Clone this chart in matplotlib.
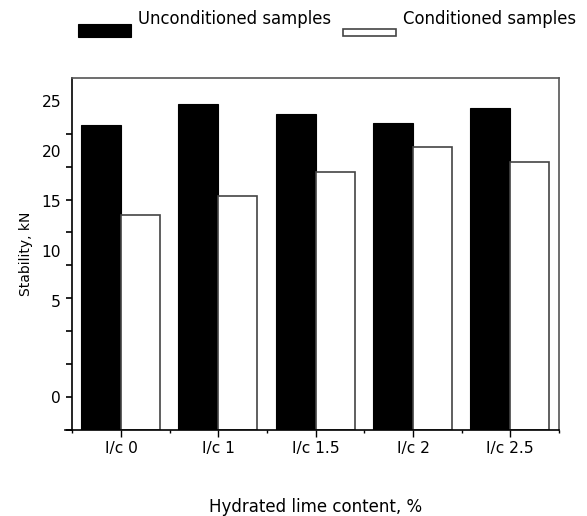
import numpy as np
import matplotlib
matplotlib.use('Agg')
import matplotlib.pyplot as plt
from matplotlib.patches import Rectangle
from matplotlib.legend_handler import HandlerPatch

# data (axis units follow the printed labels)
categories = ['I/c 0', 'I/c 1', 'I/c 1.5', 'I/c 2', 'I/c 2.5']
unconditioned = [22.6, 24.7, 23.7, 22.8, 24.3]
conditioned = [13.6, 15.5, 17.9, 20.4, 18.9]
ytick_labels = ['25', '20', '15', '10', '5', '0']
ytick_values = [25, 20, 15, 10, 5, -4.6]

y_bottom = -7.9
y_top = 27.3

plt.rcParams['font.family'] = ['DejaVu Sans']

fig = plt.figure(figsize=(5.87, 5.16), dpi=100)
ax = fig.add_axes([0.1232, 0.1667, 0.8291, 0.6827])

x = np.arange(len(categories))
h_u = np.array(unconditioned) - y_bottom
h_c = np.array(conditioned) - y_bottom
b1 = ax.bar(x, h_u, width=-0.41, align='edge', bottom=y_bottom,
            color='black', edgecolor='black', linewidth=0.8,
            label='Unconditioned samples')
b2 = ax.bar(x, h_c, width=0.40, align='edge', bottom=y_bottom,
            color='white', edgecolor='#444444', linewidth=1.2,
            label='Conditioned samples')

ax.set_xlim(-0.5, len(categories) - 0.5)
ax.set_ylim(y_bottom, y_top)

# x ticks: big ones at categories, small ones between groups
ax.set_xticks(x)
ax.set_xticklabels(categories, fontsize=11.2)
ax.set_xticks(np.arange(len(categories) + 1) - 0.5, minor=True)
ax.tick_params(axis='x', which='major', direction='out', length=5, width=1, pad=3)
ax.tick_params(axis='x', which='minor', direction='out', length=2.5, width=1)

# y ticks: labels and tick marks don't line up in the original
ax.set_yticks(ytick_values)
ax.set_yticklabels(ytick_labels, fontsize=11.2)
ax.set_yticks(np.linspace(25, y_bottom, 11), minor=True)
ax.tick_params(axis='y', which='major', length=0, pad=8)
ax.tick_params(axis='y', which='minor', direction='out', length=4.5, width=1.2)

for side in ['left', 'bottom']:
    ax.spines[side].set_color('black')
    ax.spines[side].set_linewidth(1.2)
for side in ['top', 'right']:
    ax.spines[side].set_color('#555555')
    ax.spines[side].set_linewidth(1.2)
ax.spines['bottom'].set_bounds(-0.58, len(categories) - 0.5)

ax.set_ylabel('Stability, kN', fontsize=10, labelpad=6)
ax.set_xlabel('Hydrated lime content, %', fontsize=12, labelpad=30)


def tall_box(legend, orig_handle, xdescent, ydescent, width, height, fontsize):
    return Rectangle((-xdescent, -ydescent - 1.05 * height), width, height * 1.1)


def flat_box(legend, orig_handle, xdescent, ydescent, width, height, fontsize):
    return Rectangle((-xdescent, -ydescent - 0.98 * height), width, height * 0.62)


h1 = b1.patches[0]
h2 = b2.patches[0]
fig.legend(handles=[h1, h2], labels=[b1.get_label(), b2.get_label()],
           loc='upper left', bbox_to_anchor=(0.107, 1.01),
           ncol=2, frameon=False, fontsize=11.9, handlelength=3.2,
           handleheight=0.78, handletextpad=0.42, columnspacing=0.75,
           handler_map={h1: HandlerPatch(patch_func=tall_box),
                        h2: HandlerPatch(patch_func=flat_box)})

fig.savefig('out.png', dpi=100)
